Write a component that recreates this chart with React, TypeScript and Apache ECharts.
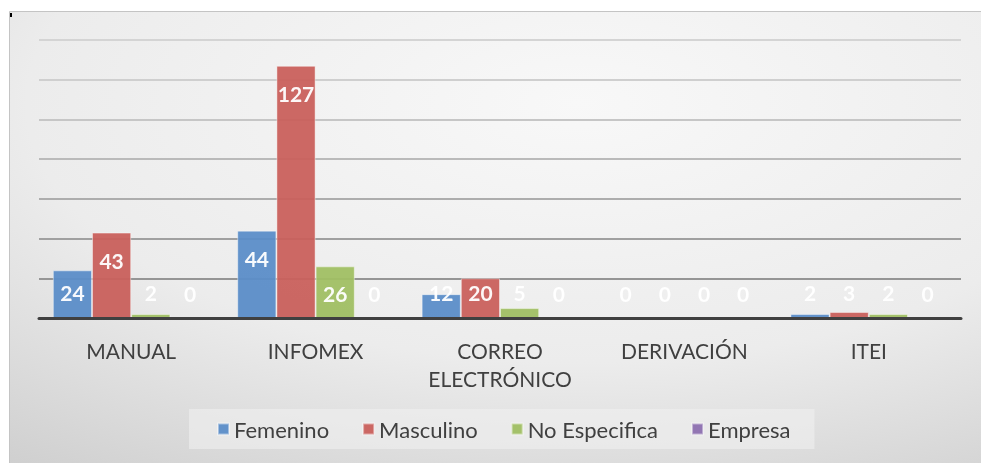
import React, { useEffect, useRef } from "react";
import * as echarts from "echarts";

const categories = ["MANUAL", "INFOMEX", "CORREO ELECTRÓNICO", "DERIVACIÓN", "ITEI"];
const seriesNames = ["Femenino", "Masculino", "No Especifica", "Empresa"];
const femenino = [24, 44, 12, 0, 2];
const masculino = [43, 127, 20, 0, 3];
const noEspecifica = [2, 26, 5, 0, 2];
const empresa = [0, 0, 0, 0, 0];
const seriesValues = [femenino, masculino, noEspecifica, empresa];
const colors = ["#5b8dc8", "#c9605c", "#a0bf63", "#8d70b0"];

export default function App() {
  const ref = useRef<HTMLDivElement>(null);
  useEffect(() => {
    if (!ref.current) return;
    const chart = echarts.init(ref.current, undefined, { renderer: "svg" });
    const font = "Lato, 'Open Sans', sans-serif";
    chart.setOption({
      animation: false,
      graphic: [
        {
          type: "rect",
          z: -10,
          silent: true,
          shape: { x: 9.5, y: 11.5, width: 980, height: 460 },
          style: {
            fill: new echarts.graphic.RadialGradient(0.58, 0.2, 1.25, [
              { offset: 0, color: "#f8f8f8" },
              { offset: 0.45, color: "#ececec" },
              { offset: 1, color: "#bcbcbc" },
            ]),
            stroke: "#c4c4c4",
            lineWidth: 1,
          },
        },
        {
          type: "rect",
          silent: true,
          shape: { x: 10, y: 13, width: 2, height: 4 },
          style: { fill: "#000" },
        },
      ],
      grid: { left: 39, right: 20, top: 40, height: 278, containLabel: false },
      legend: {
        data: seriesNames,
        left: 189,
        top: 409,
        padding: [9, 24, 9, 28],
        backgroundColor: "rgba(240,240,240,0.6)",
        itemWidth: 11,
        itemHeight: 11,
        itemGap: 33,
        icon: "rect",
        textStyle: { fontFamily: font, fontSize: 22, color: "#404040" },
      },
      xAxis: {
        type: "category",
        data: categories,
        z: 5,
        axisTick: { show: false },
        axisLine: { lineStyle: { color: "#404040", width: 3 } },
        axisLabel: {
          fontFamily: font,
          fontSize: 21,
          color: "#404040",
          lineHeight: 28,
          margin: 18,
          interval: 0,
          formatter: (v: string) => v.replace(" ", "\n"),
        },
      },
      yAxis: {
        type: "value",
        min: 0,
        max: 140,
        interval: 20,
        axisLabel: { show: false },
        axisLine: { show: false },
        axisTick: { show: false },
        splitLine: {
          lineStyle: {
            width: 2,
            color: ["#404040", "#959595", "#a0a0a0", "#adadad", "#bababa", "#c6c6c6", "#cfcfcf", "#d4d4d4"],
          },
        },
      },
      series: seriesValues.map((vals, i) => ({
        name: seriesNames[i],
        type: "bar",
        barGap: "0%",
        barCategoryGap: "15%",
        itemStyle: {
          color: colors[i],
          borderColor: "rgba(255,255,255,0.45)",
          borderWidth: 1,
          opacity: 0.95,
        },
        label: {
          show: true,
          color: "#ffffff",
          fontFamily: font,
          fontWeight: "bold",
          fontSize: 21,
        },
        data: vals.map((v) => ({
          value: v,
          label: v >= 26 ? { position: "insideTop", distance: 17 } : { position: "insideBottom", distance: 15 },
        })),
      })),
    });
    return () => chart.dispose();
  }, []);
  return (
    <div
      ref={ref}
      style={{ position: "fixed", left: 0, top: 0, width: 981, height: 463 }}
    />
  );
}
